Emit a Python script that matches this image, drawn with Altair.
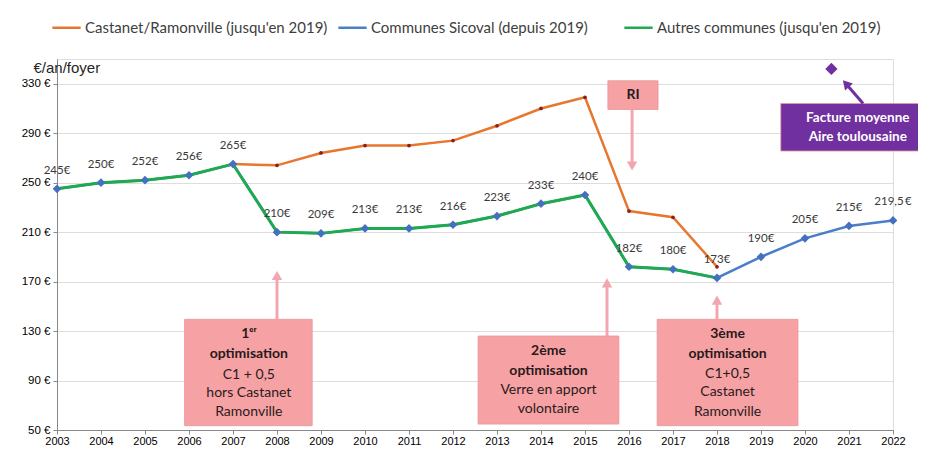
import altair as alt
import pandas as pd

# ---------------- data ----------------
years = list(range(2003, 2023))
castanet = [None, None, None, None, 265, 264, 274, 280, 280, 284, 296, 310, 319, 227, 222, 182, None, None, None, None]
sicoval = [245, 250, 252, 256, 265, 210, 209, 213, 213, 216, 223, 233, 240, 182, 180, 173, 190, 205, 215, 219.5]
autres = [245, 250, 252, 256, 265, 210, 209, 213, 213, 216, 223, 233, 240, 182, 180, 173, None, None, None, None]

series_names = ["Castanet/Ramonville (jusqu'en 2019)", "Communes Sicoval (depuis 2019)", "Autres communes (jusqu'en 2019)"]
series_colors = ["#E8772E", "#4A7EC8", "#1FAA50"]
y_ticks = [50, 90, 130, 170, 210, 250, 290, 330]

facture_year = [2020.6]
facture_value = [342]

FONT = "Lato"

# long table
rows = []
for name, vals in zip(series_names, [castanet, sicoval, autres]):
    for yr, v in zip(years, vals):
        if v is not None:
            rows.append({"series": name, "year": yr, "value": v})
df = pd.DataFrame(rows)


def fmt(v):
    s = f"{v:g}".replace(".", ",")
    return s + ("\u2009€" if "," in s else "€")


labels_df = pd.DataFrame({"year": years, "value": sicoval, "label": [fmt(v) for v in sicoval]})

# annotation boxes (data units)
boxes = pd.DataFrame([
    {"year": 2005.9, "year2": 2008.8, "value": 53.5, "value2": 139.5, "fill": "#F6A2A5"},
    {"year": 2012.57, "year2": 2015.77, "value": 54.8, "value2": 126, "fill": "#F6A2A5"},
    {"year": 2016.64, "year2": 2019.84, "value": 53.5, "value2": 139.5, "fill": "#F6A2A5"},
    {"year": 2015.52, "year2": 2016.66, "value": 309.2, "value2": 332.4, "fill": "#F6A2A5"},
    {"year": 2019.45, "year2": 2022.73, "value": 275.6, "value2": 314, "fill": "#7030A0"},
])

bold_lines = pd.DataFrame([
    {"year": 2007.36, "value": 127.6, "text": "1ᵉʳ"},
    {"year": 2007.36, "value": 111.6, "text": "optimisation"},
    {"year": 2014.17, "value": 114, "text": "2ème"},
    {"year": 2014.17, "value": 98, "text": "optimisation"},
    {"year": 2018.24, "value": 127.6, "text": "3ème"},
    {"year": 2018.24, "value": 111.6, "text": "optimisation"},
    {"year": 2016.09, "value": 320.6, "text": "RI"},
])
normal_lines = pd.DataFrame([
    {"year": 2007.36, "value": 94.8, "text": "C1 + 0,5"},
    {"year": 2007.36, "value": 79.6, "text": "hors Castanet"},
    {"year": 2007.36, "value": 64.4, "text": "Ramonville"},
    {"year": 2014.17, "value": 82, "text": "Verre en apport"},
    {"year": 2014.17, "value": 66.8, "text": "volontaire"},
    {"year": 2018.24, "value": 95.6, "text": "C1+0,5"},
    {"year": 2018.24, "value": 80.4, "text": "Castanet"},
    {"year": 2018.24, "value": 64.4, "text": "Ramonville"},
])
purple_lines = pd.DataFrame([
    {"year": 2021.2, "value": 302, "text": "Facture moyenne"},
    {"year": 2021.2, "value": 286.8, "text": "Aire toulousaine"},
])

pink_arrows = pd.DataFrame([
    {"year": 2008, "year2": 2008, "value": 139.5, "value2": 174},
    {"year": 2015.5, "year2": 2015.5, "value": 117, "value2": 168},
    {"year": 2018, "year2": 2018, "value": 139.5, "value2": 154},
    {"year": 2016.07, "year2": 2016.07, "value": 309.2, "value2": 265},
])
pink_heads_up = pd.DataFrame([
    {"year": 2008, "value": 175},
    {"year": 2015.5, "value": 169},
    {"year": 2018, "value": 155},
])
pink_heads_down = pd.DataFrame([{"year": 2016.07, "value": 263.5}])
purple_arrow = pd.DataFrame([{"year": 2021.32, "year2": 2020.98, "value": 314, "value2": 328}])
purple_head = pd.DataFrame([{"year": 2020.93, "value": 330}])
facture_df = pd.DataFrame({"year": facture_year, "value": facture_value})

# ---------------- encodings ----------------
x_scale = alt.Scale(domain=[2003, 2022], nice=False, zero=False)
y_scale = alt.Scale(domain=[50, 350], nice=False, zero=False)
x_axis = alt.Axis(values=years, format="d", grid=False, title=None, labelFontSize=11,
                  tickSize=4, labelPadding=1, labelFlush=False)
y_axis = alt.Axis(values=y_ticks, labelExpr="datum.value + ' €'", title="€/an/foyer",
                  titleAngle=0, titleAlign="left", titleBaseline="middle", titleX=-24, titleY=8,
                  titleFontSize=15, titleFontWeight="normal", titleColor="#262626",
                  labelFontSize=11.5, tickSize=4, labelPadding=3, domain=True)


def X(f="year"):
    return alt.X(f"{f}:Q", scale=x_scale, axis=x_axis)


def Y(f="value"):
    return alt.Y(f"{f}:Q", scale=y_scale, axis=y_axis)


color = alt.Color("series:N", scale=alt.Scale(domain=series_names, range=series_colors),
                  legend=alt.Legend(orient="none", legendX=-6, legendY=-47, direction="horizontal",
                                    title=None, symbolType="stroke", symbolSize=800, symbolStrokeWidth=2.5,
                                    labelFont=FONT, labelFontSize=15, labelColor="#404040",
                                    columnPadding=5, labelOffset=3, labelLimit=400, gridAlign="all"))

base = alt.Chart(df)
blue_line = base.transform_filter(alt.datum.series == series_names[1]).mark_line(strokeWidth=2.5).encode(X(), Y(), color=color)
orange_line = base.transform_filter(alt.datum.series == series_names[0]).mark_line(strokeWidth=2.5).encode(X(), Y(), color=color)
green_line = base.transform_filter(alt.datum.series == series_names[2]).mark_line(strokeWidth=3).encode(X(), Y(), color=color)
orange_pts = base.transform_filter(alt.datum.series == series_names[0]).mark_point(
    filled=True, size=14, color="#8A1F1F", opacity=1).encode(X(), Y())
blue_pts = base.transform_filter(alt.datum.series == series_names[1]).mark_point(
    filled=True, shape="diamond", size=75, color="#4470C0", opacity=1).encode(X(), Y())

value_labels = alt.Chart(labels_df).mark_text(dy=-18, font=FONT, fontSize=11.5, color="#3A3A3A").encode(
    X(), Y(), text="label:N")

box_layer = alt.Chart(boxes).mark_rect(stroke="#E89598", strokeWidth=0.8).encode(
    X(), alt.X2("year2:Q"), Y(), alt.Y2("value2:Q"), fill=alt.Fill("fill:N", scale=None))

arrow_rules = alt.Chart(pink_arrows).mark_rule(color="#F2A7B0", strokeWidth=3).encode(
    X(), alt.X2("year2:Q"), Y(), alt.Y2("value2:Q"))
heads_up = alt.Chart(pink_heads_up).mark_point(shape="triangle-up", filled=True, size=110,
                                               color="#F2A7B0", opacity=1).encode(X(), Y())
heads_down = alt.Chart(pink_heads_down).mark_point(shape="triangle-down", filled=True, size=110,
                                                   color="#F2A7B0", opacity=1).encode(X(), Y())
p_arrow = alt.Chart(purple_arrow).mark_rule(color="#7030A0", strokeWidth=3).encode(
    X(), alt.X2("year2:Q"), Y(), alt.Y2("value2:Q"))
p_head = alt.Chart(purple_head).mark_point(shape="triangle-up", filled=True, size=110, angle=318,
                                          color="#7030A0", opacity=1).encode(X(), Y())
facture_pt = alt.Chart(facture_df).mark_point(shape="diamond", filled=True, size=150,
                                             color="#7030A0", opacity=1).encode(X(), Y())

bold_text = alt.Chart(bold_lines).mark_text(font=FONT, fontSize=14, fontWeight="bold", color="#2A1A1A").encode(
    X(), Y(), text="text:N")
normal_text = alt.Chart(normal_lines).mark_text(font=FONT, fontSize=14, color="#2A1A1A").encode(
    X(), Y(), text="text:N")
purple_text = alt.Chart(purple_lines).mark_text(font=FONT, fontSize=13.5, fontWeight="bold", color="#FFFFFF").encode(
    X(), Y(), text="text:N")

chart = alt.layer(
    blue_line, orange_line, green_line, orange_pts, blue_pts, value_labels,
    arrow_rules, heads_up, heads_down, box_layer, bold_text, normal_text,
    p_arrow, p_head, facture_pt, purple_text,
).properties(
    width=836, height=371,
    autosize=alt.AutoSizeParams(type="none"),
    padding={"left": 49, "top": 51, "right": 25, "bottom": 18},
).configure_view(stroke=None).configure_axis(
    domainColor="#BFBFBF", gridColor="#D9D9D9", gridWidth=1.5, tickColor="#BFBFBF",
    labelFont=FONT, titleFont=FONT, labelColor="#404040",
).configure(background="white")

chart.save("out.html", embed_options={"renderer": "svg", "actions": False})
